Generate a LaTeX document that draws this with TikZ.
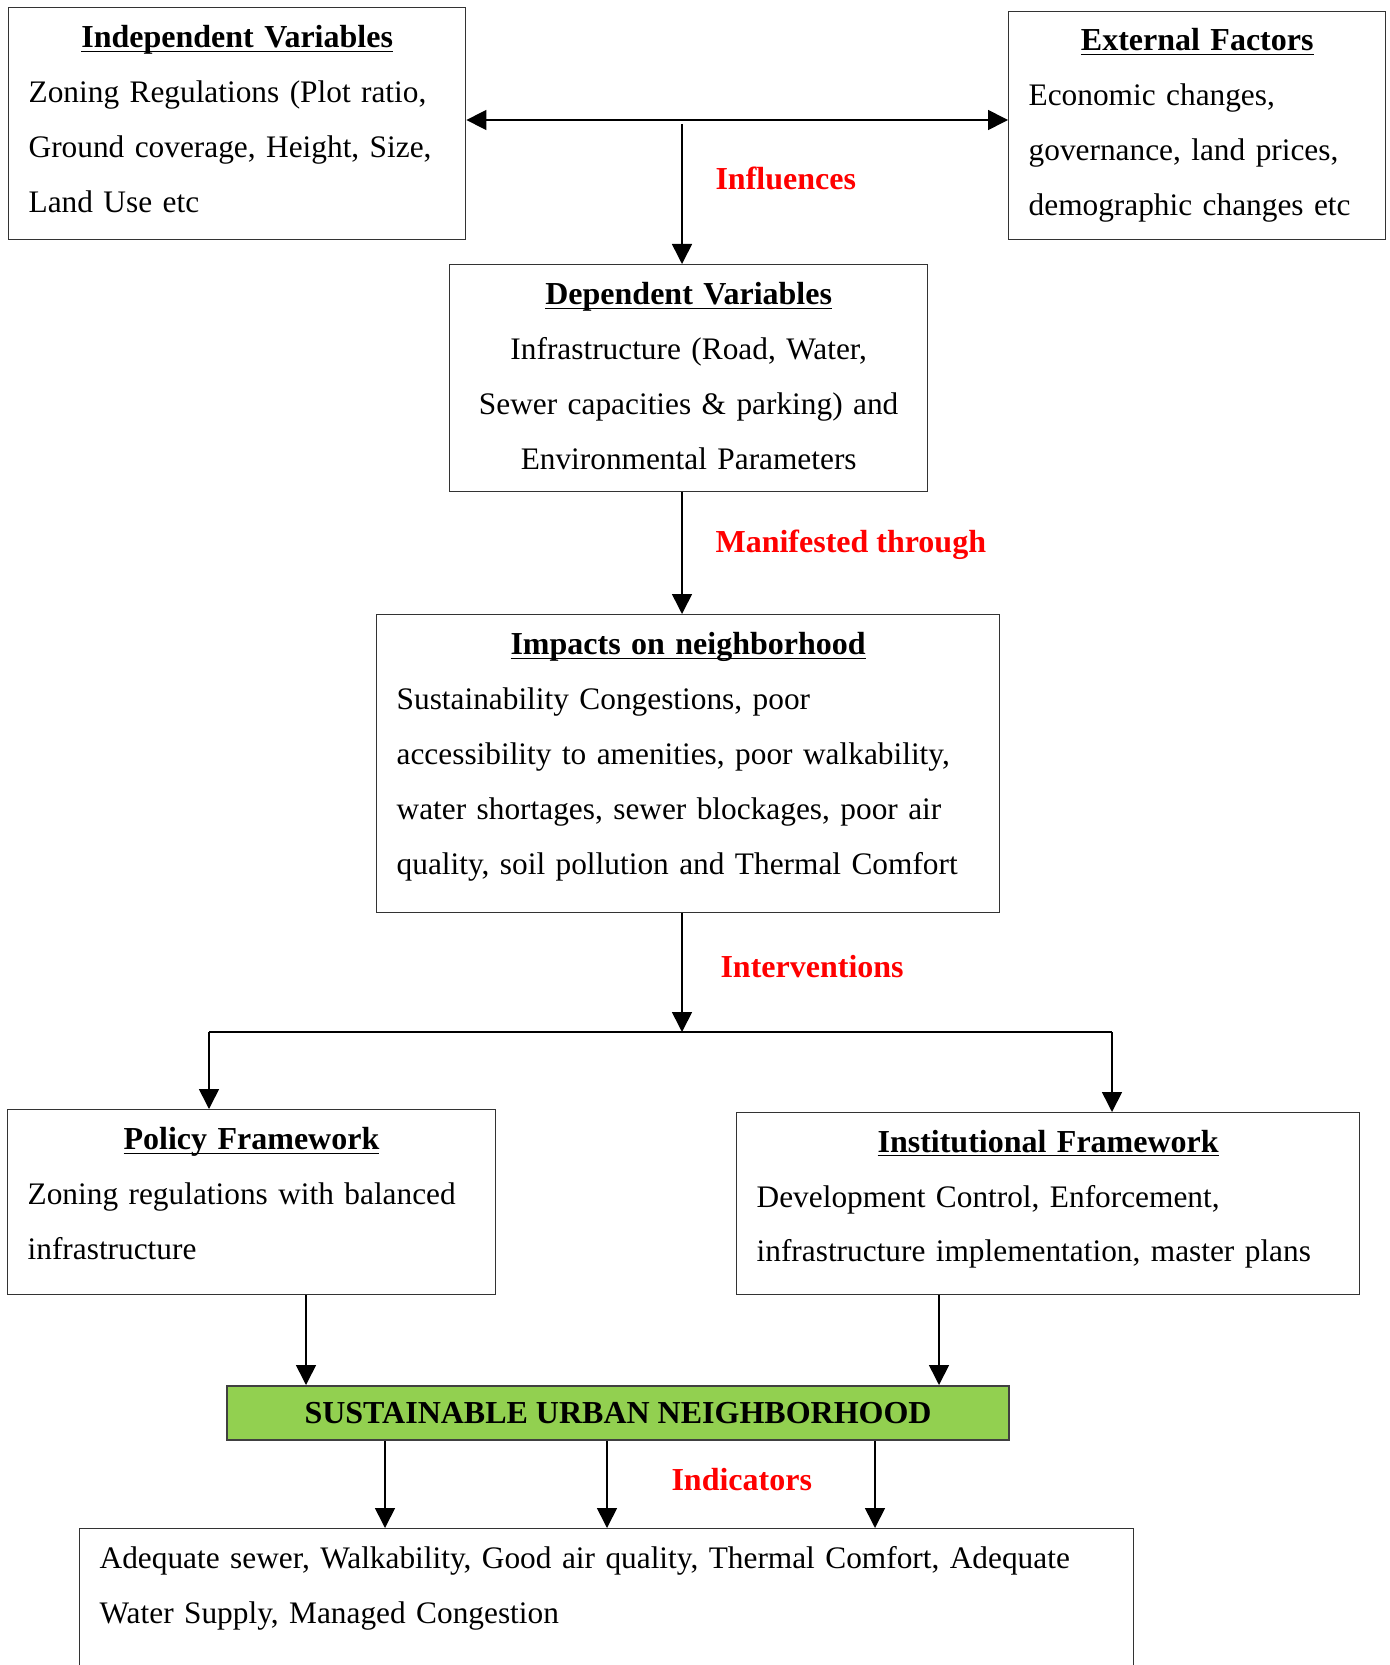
\documentclass[tikz,border=0pt]{standalone}
\usepackage{fontspec}
\setmainfont{Liberation Serif}
\usepackage{tikz}
\usetikzlibrary{positioning,calc,arrows.meta}
\definecolor{tagred}{RGB}{255,0,0}
\definecolor{goalgreen}{RGB}{146,208,80}
\newcommand{\boxtitle}[2][5pt]{\makebox[\linewidth]{\rule{0pt}{#1}\fontsize{12}{20.6}\selectfont\textbf{\underline{\smash{#2}}}}}
\tikzset{
    every node/.style={font=\fontsize{11.75}{20.6}\selectfont},
    varbox/.style={draw=black!80, line width=0.5pt, anchor=north west, align=left, inner xsep=7.5pt, inner ysep=0pt},
    redlabel/.style={text=tagred, font=\fontsize{12}{14}\selectfont\bfseries, anchor=west, inner xsep=0pt},
    goalbox/.style={draw=black!75, line width=0.8pt, fill=goalgreen, anchor=north west, inner sep=0pt, font=\fontsize{12}{14}\selectfont\bfseries},
    arrow/.style={-{Triangle[length=7.5pt, width=7.5pt]}, line width=0.6pt},
}

\begin{document}
\begin{tikzpicture}[x=0.375pt, y=-0.375pt]
\useasboundingbox (0,0) rectangle (1390,1665);
% the two boxes at the top
\node[varbox, text width=156.4pt, minimum height=87pt] (indep) at (8,7) {\boxtitle{Independent Variables}\\ Zoning Regulations (Plot ratio,\\ Ground coverage, Height, Size,\\ Land Use etc};
\node[varbox, text width=126.4pt, minimum height=85.5pt] (ext) at (1008,11) {\boxtitle[8.2pt]{External Factors}\\ Economic changes,\\ governance, land prices,\\ demographic changes etc};
% the middle column
\node[varbox, align=center, text width=164.25pt, minimum height=85.1pt] (dep) at (449,264) {\boxtitle[6.6pt]{Dependent Variables}\\ Infrastructure (Road, Water,\\ Sewer capacities \& parking) and\\ Environmental Parameters};
\node[varbox, text width=218.6pt, minimum height=111.75pt] (imp) at (376,614) {\boxtitle[3.4pt]{Impacts on neighborhood}\\ Sustainability Congestions, poor\\ accessibility to amenities, poor walkability,\\ water shortages, sewer blockages, poor air\\ quality, soil pollution and Thermal Comfort};
% the two frameworks
\node[varbox, text width=167.85pt, minimum height=69.4pt] (pol) at (7,1109) {\boxtitle[1.8pt]{Policy Framework}\\ Zoning regulations with balanced\\ infrastructure};
\node[varbox, text width=218.6pt, minimum height=68.25pt] (inst) at (736,1112) {\boxtitle{Institutional Framework}\\ Development Control, Enforcement,\\ infrastructure implementation, master plans};
\node[goalbox, minimum width=293.25pt, minimum height=20.25pt] (goal) at (226,1385) {SUSTAINABLE URBAN NEIGHBORHOOD};
% the bottom box runs past the page
\node[varbox, text width=380.25pt, text height=9pt, text depth=70pt, inner ysep=6pt] (indic) at (79,1528) {Adequate sewer, Walkability, Good air quality, Thermal Comfort, Adequate\\ Water Supply, Managed Congestion};

\coordinate (spine) at (682,0);
\coordinate (hub) at (682,120);
\coordinate (infl) at (682,124);
\coordinate (split) at (682,1032);
\coordinate (splitL) at (209,1032);
\coordinate (splitR) at (1112,1032);
\coordinate (colA) at (306,0);
\coordinate (colB) at (939,0);
\coordinate (colC) at (385,0);
\coordinate (colD) at (607,0);
\coordinate (colE) at (875,0);

\draw[arrow] (hub) -- (hub -| indep.east);
\draw[arrow] (hub) -- (hub -| ext.west);
\draw[arrow] (infl) -- (dep.north -| spine);
\draw[arrow] (dep.south -| spine) -- (imp.north -| spine);
\draw[arrow] (imp.south -| spine) -- (split);
\draw[line width=0.6pt] (splitL) -- (splitR);
\draw[arrow] (splitL) -- (pol.north -| splitL);
\draw[arrow] (splitR) -- (inst.north -| splitR);
\draw[arrow] (pol.south -| colA) -- (goal.north -| colA);
\draw[arrow] (inst.south -| colB) -- (goal.north -| colB);
\foreach \c in {colC,colD,colE}
    \draw[arrow] (goal.south -| \c) -- (indic.north -| \c);

% red labels beside the arrows
\node[redlabel] (influ) at (715,178) {Influences};
\node[redlabel] (manif) at (715,545) {Manifested through};
\node[redlabel] (interv) at (720,967) {Interventions};
\node[redlabel] (indicat) at (671,1480) {Indicators};
\end{tikzpicture}
\end{document}
